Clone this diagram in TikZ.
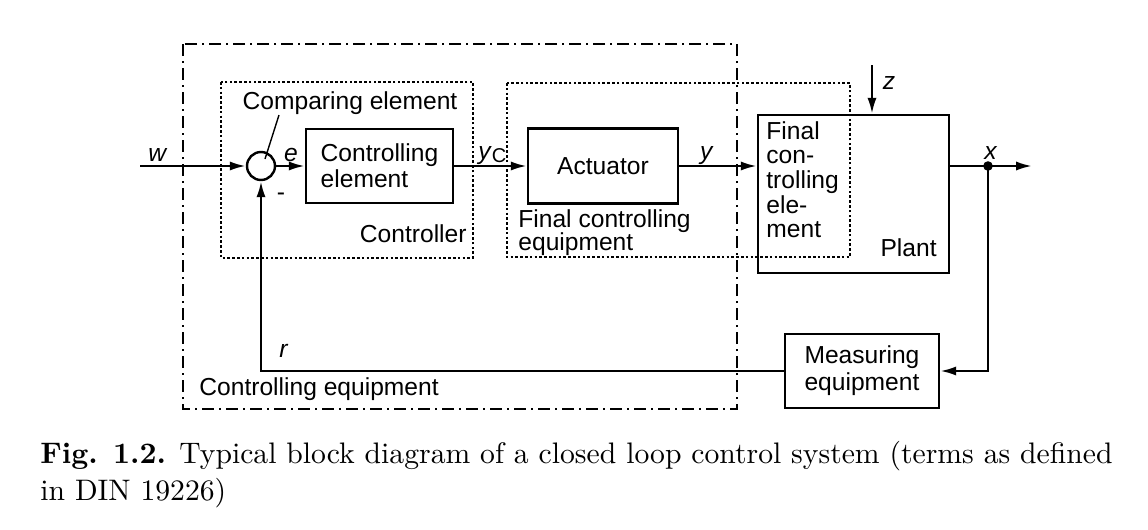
\documentclass[tikz,border=0pt]{standalone}
\usepackage{fontspec}
\setsansfont{Liberation Sans}
\usetikzlibrary{arrows.meta}
\begin{document}
\begin{tikzpicture}[x=0.5pt,y=-0.5pt,
  every node/.style={font=\sffamily\fontsize{12.3}{12.8}\selectfont},
  blk/.style={draw,line width=1.2pt,inner sep=0pt,align=left},
  arr/.style={line width=1.2pt,-{Latex[length=8pt,width=4.6pt]}},
  dashdot/.style={line width=1pt,dash pattern=on 6pt off 2.5pt on 1pt off 2.5pt},
  dotline/.style={line width=1pt,dash pattern=on 1.3pt off 1.1pt},
  lbl/.style={inner sep=0pt},
  captxt/.style={inner sep=0pt,font=\rmfamily\fontsize{10}{12}\selectfont}]
\useasboundingbox (0,0) rectangle (1148,530);
% frames
\draw[dashdot] (183,44) rectangle (737,409);
\draw[dotline] (221,82) rectangle (473,258);
\draw[dotline] (507,83) rectangle (850,257);
% blocks
\node[blk,circle,minimum size=14pt] (cmp) at (261,166) {};
\node[blk,minimum width=73.5pt,minimum height=37pt] (ce) at (379.5,166) {Controlling\\element};
\node[blk,minimum width=75pt,minimum height=37.5pt] (act) at (603,166) {Actuator};
\node[blk,minimum width=95.5pt,minimum height=79pt] (plant) at (853.5,194) {};
\node[blk,minimum width=77pt,minimum height=37pt,align=center,font=\sffamily\fontsize{12.3}{13.5}\selectfont] (meas) at (862,371) {Measuring\\equipment};
% texts
\node[lbl,anchor=north west,align=left,font=\sffamily\fontsize{12.3}{12.3}\selectfont] (fce) at (766,121) {Final\\con-\\trolling\\ele-\\ment};
\node[lbl,anchor=base east] (plt) at (937,256) {Plant};
\node[lbl,anchor=base] (cmptxt) at (350,109) {Comparing element};
\node[lbl,anchor=base east] (ctrl) at (467,242) {Controller};
\node[lbl,anchor=north west,align=left,font=\sffamily\fontsize{12.3}{11.5}\selectfont] (fceq) at (518,209) {Final controlling\\equipment};
\node[lbl,anchor=base west] (ceq) at (199,395) {Controlling equipment};
\node[lbl,anchor=base] (wl) at (158,161) {\textit{w}};
\node[lbl,anchor=base] (el) at (291,161) {\textit{e}};
\node[lbl,anchor=base] (ml) at (281,200) {-};
\node[lbl,anchor=base west] (ycl) at (478,159) {\textit{y}\raisebox{-0.3ex}{\fontsize{10}{10}\selectfont C}};
\node[lbl,anchor=base] (yl) at (707,159) {\textit{y}};
\node[lbl,anchor=base] (zl) at (889,90) {\textit{z}};
\node[lbl,anchor=base] (xl) at (991,159) {\textit{x}};
\node[lbl,anchor=base] (rl) at (284,357) {\textit{r}};
% connectors
\coordinate (win) at (140,166);
\coordinate (xend) at (1032,166);
\coordinate (br) at (988,166);
\coordinate (zt) at (872,65);
\coordinate (lead) at (279,115);
\coordinate (leadend) at (265,159);
\draw[arr] (win) -- (cmp.west);
\draw[arr] (cmp.east) -- (ce.west);
\draw[arr] (ce.east) -- (act.west);
\draw[arr] (act.east) -- (act.east -| plant.west);
\draw[arr] (zt) -- (zt |- plant.north);
\draw[arr] (act.east -| plant.east) -- (xend);
\fill (br) circle (2.4pt);
\draw[arr] (br) |- (meas.east);
\draw[arr] (meas.west) -| (cmp.south);
\draw[line width=0.7pt] (lead) -- (leadend);
% caption
\node[captxt,anchor=base west] (cap1) at (40,463) {\resizebox{536pt}{!}{\begin{tabular}[t]{@{}l@{}}\textbf{Fig. 1.2.} Typical block diagram of a closed loop control system (terms as defined\\[0.6pt]in DIN 19226)\end{tabular}}};
\end{tikzpicture}
\end{document}
